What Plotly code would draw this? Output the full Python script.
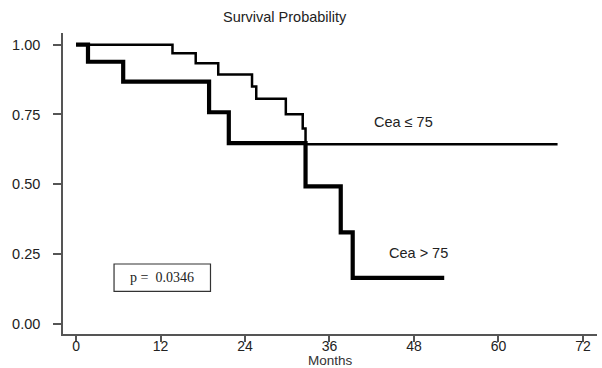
import plotly.graph_objects as go

# Kaplan-Meier step data
months_low = [0, 13.7, 17.0, 20.2, 25.0, 25.6, 29.8, 32.2, 32.6, 68.4]
surv_low = [1.0, 0.969, 0.934, 0.893, 0.850, 0.806, 0.751, 0.700, 0.643, 0.643]

months_high = [0, 1.7, 6.7, 18.9, 21.7, 32.6, 37.6, 39.3, 52.3]
surv_high = [1.0, 0.939, 0.868, 0.758, 0.647, 0.492, 0.327, 0.164, 0.164]

x_ticks = [0, 12, 24, 36, 48, 60, 72]
y_ticks = [0, 0.25, 0.5, 0.75, 1.0]
y_ticktext = ["0.00", "0.25", "0.50", "0.75", "1.00"]

label_low = "Cea \u2264 75"
label_high = "Cea > 75"
p_text = "p =  0.0346"

TXT = "#222222"
AX = "#555555"
FONT = "Liberation Sans, Arial, sans-serif"

fig = go.Figure()
fig.add_trace(go.Scatter(x=months_low, y=surv_low, mode="lines",
                         line=dict(shape="hv", color="black", width=2.5),
                         showlegend=False, hoverinfo="skip"))
fig.add_trace(go.Scatter(x=months_high, y=surv_high, mode="lines",
                         line=dict(shape="hv", color="black", width=4.2),
                         showlegend=False, hoverinfo="skip"))

fig.update_layout(
    width=602, height=368,
    margin=dict(l=63, r=5, t=33, b=34),
    paper_bgcolor="white", plot_bgcolor="white",
    font=dict(family=FONT, size=14, color=TXT),
    xaxis=dict(range=[-1.85, 74.0], tickvals=x_ticks, showgrid=False, zeroline=False,
               showline=True, linecolor=AX, linewidth=1.5,
               ticks="outside", ticklen=6, tickcolor=AX, tickwidth=1.5,
               tickfont=dict(size=14, color=TXT), automargin=False,
               ticklabelstandoff=-8),
    yaxis=dict(range=[-0.037, 1.042], tickvals=y_ticks, ticktext=y_ticktext,
               showgrid=False, zeroline=False,
               showline=True, linecolor=AX, linewidth=1.5,
               ticks="outside", ticklen=8, tickcolor=AX, tickwidth=1.5,
               tickfont=dict(size=14.5, color=TXT), automargin=False,
               ticklabelstandoff=10),
    annotations=[
        dict(text="Survival Probability", xref="paper", yref="paper", x=0.416, y=1,
             yshift=16, xanchor="center", yanchor="middle", showarrow=False,
             font=dict(size=14.5, color=TXT)),
        dict(text="Months", xref="paper", yref="paper", x=0.5, y=0,
             yshift=-26.5, xanchor="center", yanchor="middle", showarrow=False,
             font=dict(size=13.5, color="#333333")),
        dict(text=label_low, x=46.5, y=0.723, xanchor="center", yanchor="middle",
             showarrow=False, font=dict(size=14.5, color=TXT)),
        dict(text=label_high, x=48.7, y=0.255, xanchor="center", yanchor="middle",
             showarrow=False, font=dict(size=14.5, color=TXT)),
        dict(text=p_text, x=12.25, y=0.165, xanchor="center", yanchor="middle",
             showarrow=False,
             font=dict(family="Liberation Serif, Times New Roman, serif", size=14, color=TXT)),
    ],
    shapes=[
        dict(type="rect", x0=5.4, x1=19.1, y0=0.116, y1=0.214,
             line=dict(color="#333333", width=1.2), fillcolor="rgba(0,0,0,0)"),
    ],
)

fig.write_html("out.html")
